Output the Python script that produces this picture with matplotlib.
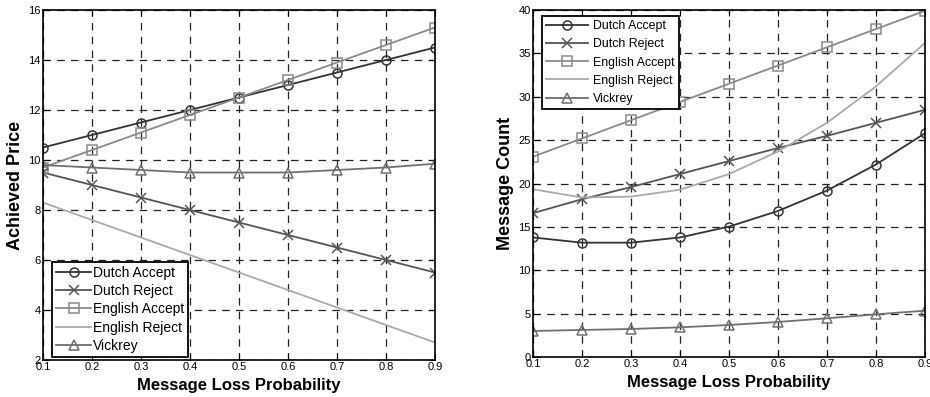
import matplotlib
matplotlib.use('Agg')
import matplotlib.pyplot as plt

plt.rcParams['font.family'] = ['Liberation Sans', 'DejaVu Sans']

loss_prob = [0.1, 0.2, 0.3, 0.4, 0.5, 0.6, 0.7, 0.8, 0.9]

# achieved price
price_dutch_accept = [10.5, 11.0, 11.5, 12.0, 12.5, 13.0, 13.5, 14.0, 14.5]
price_dutch_reject = [9.5, 9.0, 8.5, 8.0, 7.5, 7.0, 6.5, 6.0, 5.5]
price_english_accept = [9.7, 10.4, 11.1, 11.8, 12.5, 13.2, 13.9, 14.6, 15.3]
price_english_reject = [8.3, 7.6, 6.9, 6.2, 5.5, 4.8, 4.1, 3.4, 2.7]
price_vickrey = [9.8, 9.7, 9.6, 9.5, 9.5, 9.5, 9.6, 9.7, 9.85]

# message count
msg_dutch_accept = [13.8, 13.2, 13.2, 13.8, 15.05, 16.85, 19.2, 22.2, 25.8]
msg_dutch_reject = [16.6, 18.2, 19.6, 21.1, 22.6, 24.1, 25.5, 27.0, 28.5]
msg_english_accept = [23.1, 25.2, 27.3, 29.4, 31.5, 33.6, 35.7, 37.8, 39.9]
msg_english_reject = [19.35, 18.4, 18.5, 19.3, 21.1, 23.7, 27.0, 31.2, 36.2]
msg_vickrey = [3.03, 3.15, 3.26, 3.45, 3.72, 4.07, 4.49, 4.95, 5.37]

labels = ['Dutch Accept', 'Dutch Reject', 'English Accept', 'English Reject', 'Vickrey']
styles = [
    dict(color='#333333', marker='o'),
    dict(color='#555555', marker='x'),
    dict(color='#8a8a8a', marker='s'),
    dict(color='#aaaaaa', marker=None),
    dict(color='#707070', marker='^'),
]


def draw_panel(ax, series, ylim, yticks, ylabel, leg_kw):
    for vals, lab, st in zip(series, labels, styles):
        ax.plot(loss_prob, vals, label=lab, color=st['color'], marker=st['marker'],
                markersize=6.5, markerfacecolor='none', markeredgewidth=1.1,
                linewidth=1.3)
    ax.set_xlim(0.1, 0.9)
    ax.set_ylim(*ylim)
    ax.set_xticks(loss_prob)
    ax.set_xticklabels(['0.1', '0.2', '0.3', '0.4', '0.5', '0.6', '0.7', '0.8', '0.9'])
    ax.set_yticks(yticks)
    ax.tick_params(direction='in', top=True, right=True, labelsize=8, length=4, pad=1.5)
    ax.grid(True, color='#222222', linestyle=(0, (6, 5)), linewidth=0.9)
    for sp in ax.spines.values():
        sp.set_linewidth(1.2)
    ax.set_xlabel('Message Loss Probability', fontweight='bold', fontsize=12, labelpad=4)
    ax.set_ylabel(ylabel, fontweight='bold', fontsize=13, labelpad=3)
    leg = ax.legend(fancybox=False, framealpha=1, edgecolor='black',
                    borderaxespad=0, **leg_kw)
    leg.get_frame().set_linewidth(1.3)


fig = plt.figure(figsize=(9.3, 3.97), dpi=100)
ax1 = fig.add_axes([0.0462, 0.0932, 0.4215, 0.8816])
ax2 = fig.add_axes([0.5731, 0.100, 0.4215, 0.875])

draw_panel(ax1,
           [price_dutch_accept, price_dutch_reject, price_english_accept,
            price_english_reject, price_vickrey],
           (2, 16), [2, 4, 6, 8, 10, 12, 14, 16], 'Achieved Price',
           dict(loc='lower left', bbox_to_anchor=(0.023, 0.009), fontsize=10,
                borderpad=0.3, labelspacing=0.3, handlelength=2.5, handletextpad=0.15))
draw_panel(ax2,
           [msg_dutch_accept, msg_dutch_reject, msg_english_accept,
            msg_english_reject, msg_vickrey],
           (0, 40), [0, 5, 10, 15, 20, 25, 30, 35, 40], 'Message Count',
           dict(loc='upper left', bbox_to_anchor=(0.023, 0.983), fontsize=8.9,
                borderpad=0.35, labelspacing=0.5, handlelength=3.4, handletextpad=0.4))

fig.savefig('out.png', dpi=100)
